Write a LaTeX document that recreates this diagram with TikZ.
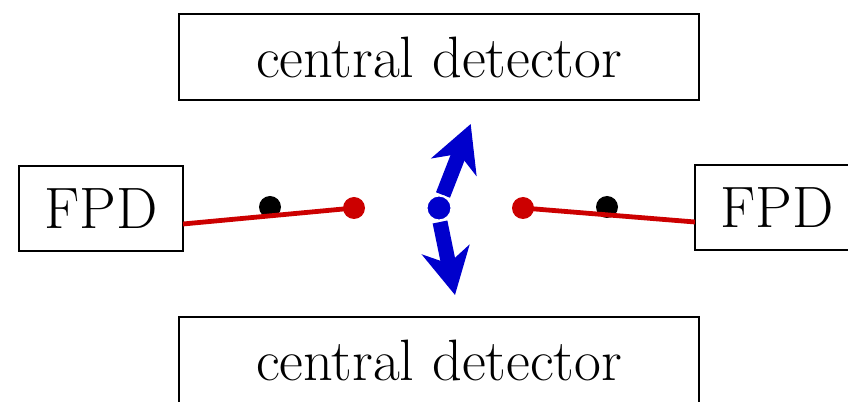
\documentclass[tikz,border=0pt]{standalone}
\usetikzlibrary{arrows.meta}
\definecolor{myred}{RGB}{204,0,0}
\definecolor{myblue}{RGB}{0,0,204}
\begin{document}
\begin{tikzpicture}[x=0.5pt,y=0.5pt,
  box/.style={draw=black, line width=1.4pt, inner sep=0pt, font=\fontsize{29.2}{34}\selectfont},
  dot/.style={circle, inner sep=0pt, minimum size=11pt},
  rline/.style={myred, line width=2.4pt},
  barrow/.style={myblue, line width=7.5pt, -{Stealth[length=23pt,width=24pt,inset=7pt]}}]
\useasboundingbox (0,0) rectangle (848,402);
\clip (0,0) rectangle (848,402);
\node[box, minimum width=260pt, minimum height=43pt] (top) at (439,345) {central detector};
\node[box, minimum width=260pt, minimum height=43pt] (bot) at (439,42) {central detector};
\node[box, minimum width=82pt, minimum height=42.5pt] (fpdL) at (101,193.5) {FPD};
\node[box, minimum width=82pt, minimum height=42.5pt] (fpdR) at (777,194.5) {FPD};
\coordinate (lend) at (183,178);
\coordinate (rend) at (695,180);
\node[dot, fill=black] (kL) at (270,195) {};
\node[dot, fill=black] (kR) at (607,195) {};
\node[dot, fill=myred] (rL) at (354,194) {};
\node[dot, fill=myred] (rR) at (523,194) {};
\draw[rline] (lend) -- (rL.center);
\draw[rline] (rend) -- (rR.center);
\coordinate (us) at (443,207);
\coordinate (ut) at (470.7,278);
\coordinate (ds) at (440,180);
\coordinate (dt) at (455,107);
\draw[barrow] (us) -- (ut);
\draw[barrow] (ds) -- (dt);
\node[dot, fill=myblue, draw=white, line width=1pt, minimum size=12.5pt] (c) at (439,194) {};
\end{tikzpicture}
\end{document}
